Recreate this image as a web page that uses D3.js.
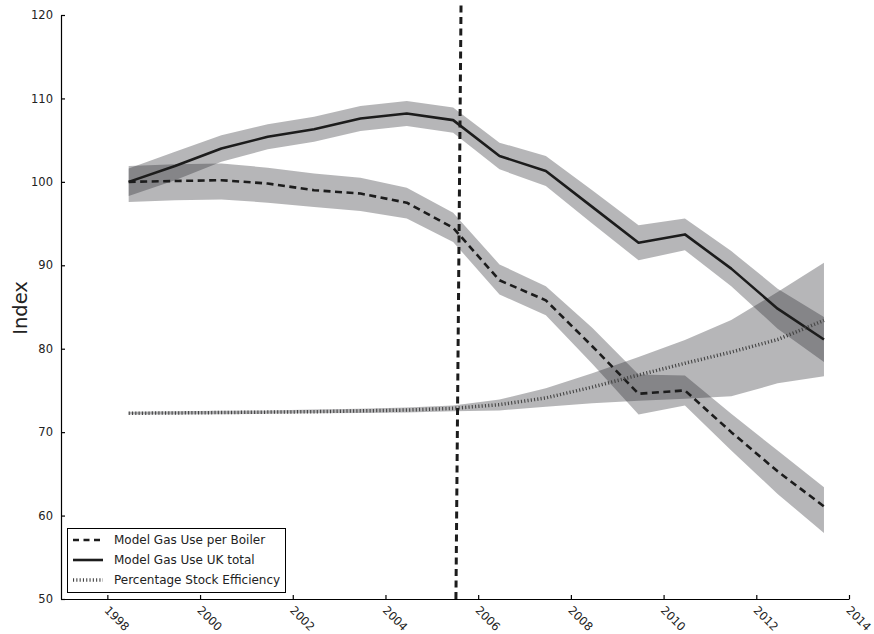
<!DOCTYPE html>
<html>
<head>
<meta charset="utf-8">
<script src="https://cdn.jsdelivr.net/npm/d3@7"></script>
<style>
  html, body { margin: 0; padding: 0; background: #fff; }
  svg { display: block; font-family: "DejaVu Sans", sans-serif; }
</style>
</head>
<body>
<svg id="chart" width="874" height="634"></svg>
<script>
// ---- data ----
const years = [1998, 1999, 2000, 2001, 2002, 2003, 2004, 2005, 2006, 2007, 2008, 2009, 2010, 2011, 2012, 2013];
const yearOffset = 0.46; // points sit part-way through each year

const boilerMid   = [100.0, 100.1, 100.2, 99.8, 99.0, 98.6, 97.5, 94.5, 88.2, 85.8, 80.3, 74.6, 75.0, 70.0, 65.3, 61.1];
const boilerUpper = [101.9, 102.1, 102.2, 101.7, 101.0, 100.5, 99.3, 96.3, 90.1, 87.5, 82.5, 76.9, 76.8, 72.2, 67.8, 63.4];
const boilerLower = [97.6, 97.8, 97.9, 97.5, 97.0, 96.5, 95.6, 92.8, 86.5, 84.0, 78.2, 72.1, 73.2, 67.8, 62.6, 57.9];

const totalMid   = [100.0, 101.9, 104.0, 105.4, 106.3, 107.6, 108.2, 107.4, 103.1, 101.3, 97.0, 92.7, 93.7, 89.6, 84.8, 81.1];
const totalUpper = [101.6, 103.6, 105.6, 106.9, 107.8, 109.1, 109.7, 108.9, 104.7, 103.1, 99.0, 94.8, 95.6, 91.7, 87.2, 83.8];
const totalLower = [98.3, 100.2, 102.4, 103.9, 104.8, 106.1, 106.7, 105.9, 101.5, 99.5, 95.0, 90.6, 91.8, 87.5, 82.4, 78.4];

const effMid   = [72.26, 72.3, 72.35, 72.4, 72.45, 72.55, 72.65, 72.85, 73.3, 74.1, 75.4, 76.85, 78.25, 79.6, 81.1, 83.4];
const effUpper = [72.45, 72.5, 72.55, 72.6, 72.7, 72.8, 72.95, 73.2, 73.9, 75.25, 77.05, 79.0, 81.05, 83.45, 86.8, 90.3];
const effLower = [72.1, 72.1, 72.15, 72.2, 72.25, 72.3, 72.35, 72.5, 72.6, 73.05, 73.45, 73.75, 74.0, 74.3, 75.85, 76.7];

const markerLine = [{year: 2005.52, value: 50}, {year: 2005.63, value: 121.2}];

const xTicks = [1998, 2000, 2002, 2004, 2006, 2008, 2010, 2012, 2014];
const yTicks = [50, 60, 70, 80, 90, 100, 110, 120];
const xDomain = [1997, 2014];
const yDomain = [50, 120];

const seriesNames = ["Model Gas Use per Boiler", "Model Gas Use UK total", "Percentage Stock Efficiency"];
const yLabel = "Index";

// ---- layout ----
const svg = d3.select("#chart");
const margin = {left: 61, right: 25, top: 15, bottom: 35};
const W = 874, H = 634;
const x = d3.scaleLinear().domain(xDomain).range([margin.left, W - margin.right]);
const y = d3.scaleLinear().domain(yDomain).range([H - margin.bottom, margin.top]);

const lineColor = "#1c1c1c";
const styles = [
  {dash: "7,4.5", width: 2.6, color: lineColor},
  {dash: null, width: 2.6, color: lineColor},
  {dash: "1.1,2.2", width: 3.5, color: "#444"}
];

const seriesData = [
  {mid: boilerMid, up: boilerUpper, lo: boilerLower},
  {mid: totalMid, up: totalUpper, lo: totalLower},
  {mid: effMid, up: effUpper, lo: effLower}
].map(s => years.map((yr, i) => ({x: yr + yearOffset, mid: s.mid[i], up: s.up[i], lo: s.lo[i]})));

// bands
const area = d3.area().x(d => x(d.x)).y0(d => y(d.lo)).y1(d => y(d.up));
const plotG = svg.append("g");
seriesData.forEach(sd => {
  plotG.append("path").datum(sd).attr("d", area)
    .attr("fill", "#222226").attr("fill-opacity", 0.33).attr("stroke", "none");
});

// lines
const line = d3.line().x(d => x(d.x)).y(d => y(d.mid));
seriesData.forEach((sd, i) => {
  const p = plotG.append("path").datum(sd).attr("d", line)
    .attr("fill", "none").attr("stroke", styles[i].color)
    .attr("stroke-width", styles[i].width).attr("stroke-linejoin", "round");
  if (styles[i].dash) p.attr("stroke-dasharray", styles[i].dash);
});

// vertical marker
plotG.append("path").datum(markerLine)
  .attr("d", d3.line().x(d => x(d.year)).y(d => y(d.value)))
  .attr("fill", "none").attr("stroke", lineColor).attr("stroke-width", 3)
  .attr("stroke-dasharray", "7,4.5");

// axes
const xAxis = d3.axisBottom(x).tickValues(xTicks).tickFormat(d3.format("d")).tickSizeInner(-4).tickSizeOuter(0).tickPadding(7);
const yAxis = d3.axisLeft(y).tickValues(yTicks).tickSizeInner(-4).tickSizeOuter(0).tickPadding(8);

const gx = svg.append("g").attr("transform", `translate(0,${y(yDomain[0])})`).call(xAxis);
const gy = svg.append("g").attr("transform", `translate(${x(xDomain[0])},0)`).call(yAxis);
[gx, gy].forEach(g => {
  g.select(".domain").attr("stroke", "#000").attr("stroke-width", 1.2);
  g.selectAll(".tick line").attr("stroke", "#000").attr("stroke-width", 1.2);
  g.selectAll("text").attr("font-family", "DejaVu Sans, sans-serif").attr("font-size", 11.5).attr("fill", "#222");
});
gx.selectAll(".tick text")
  .attr("text-anchor", "start")
  .attr("dy", null)
  .attr("y", 0)
  .attr("transform", "translate(-4,12) rotate(45)");

svg.append("text")
  .attr("transform", `translate(27,${(y(yDomain[0]) + y(yDomain[1])) / 2 + 1}) rotate(-90)`)
  .attr("text-anchor", "middle")
  .attr("font-size", 19.5).attr("fill", "#222")
  .text(yLabel);

// legend
const lg = svg.append("g").attr("transform", "translate(67,528)");
lg.append("rect").attr("x", 0.5).attr("y", 0.5).attr("width", 218).attr("height", 64)
  .attr("fill", "#fff").attr("stroke", "#000").attr("stroke-width", 1);
seriesNames.forEach((name, i) => {
  const yy = 12 + i * 20;
  const l = lg.append("line").attr("x1", 6).attr("x2", 36).attr("y1", yy).attr("y2", yy)
    .attr("stroke", styles[i].color).attr("stroke-width", styles[i].width);
  if (styles[i].dash) l.attr("stroke-dasharray", i === 0 ? "6,4.5" : styles[i].dash);
  lg.append("text").attr("x", 47).attr("y", yy + 4).attr("font-size", 12).attr("fill", "#222").text(name);
});
</script>
</body>
</html>
